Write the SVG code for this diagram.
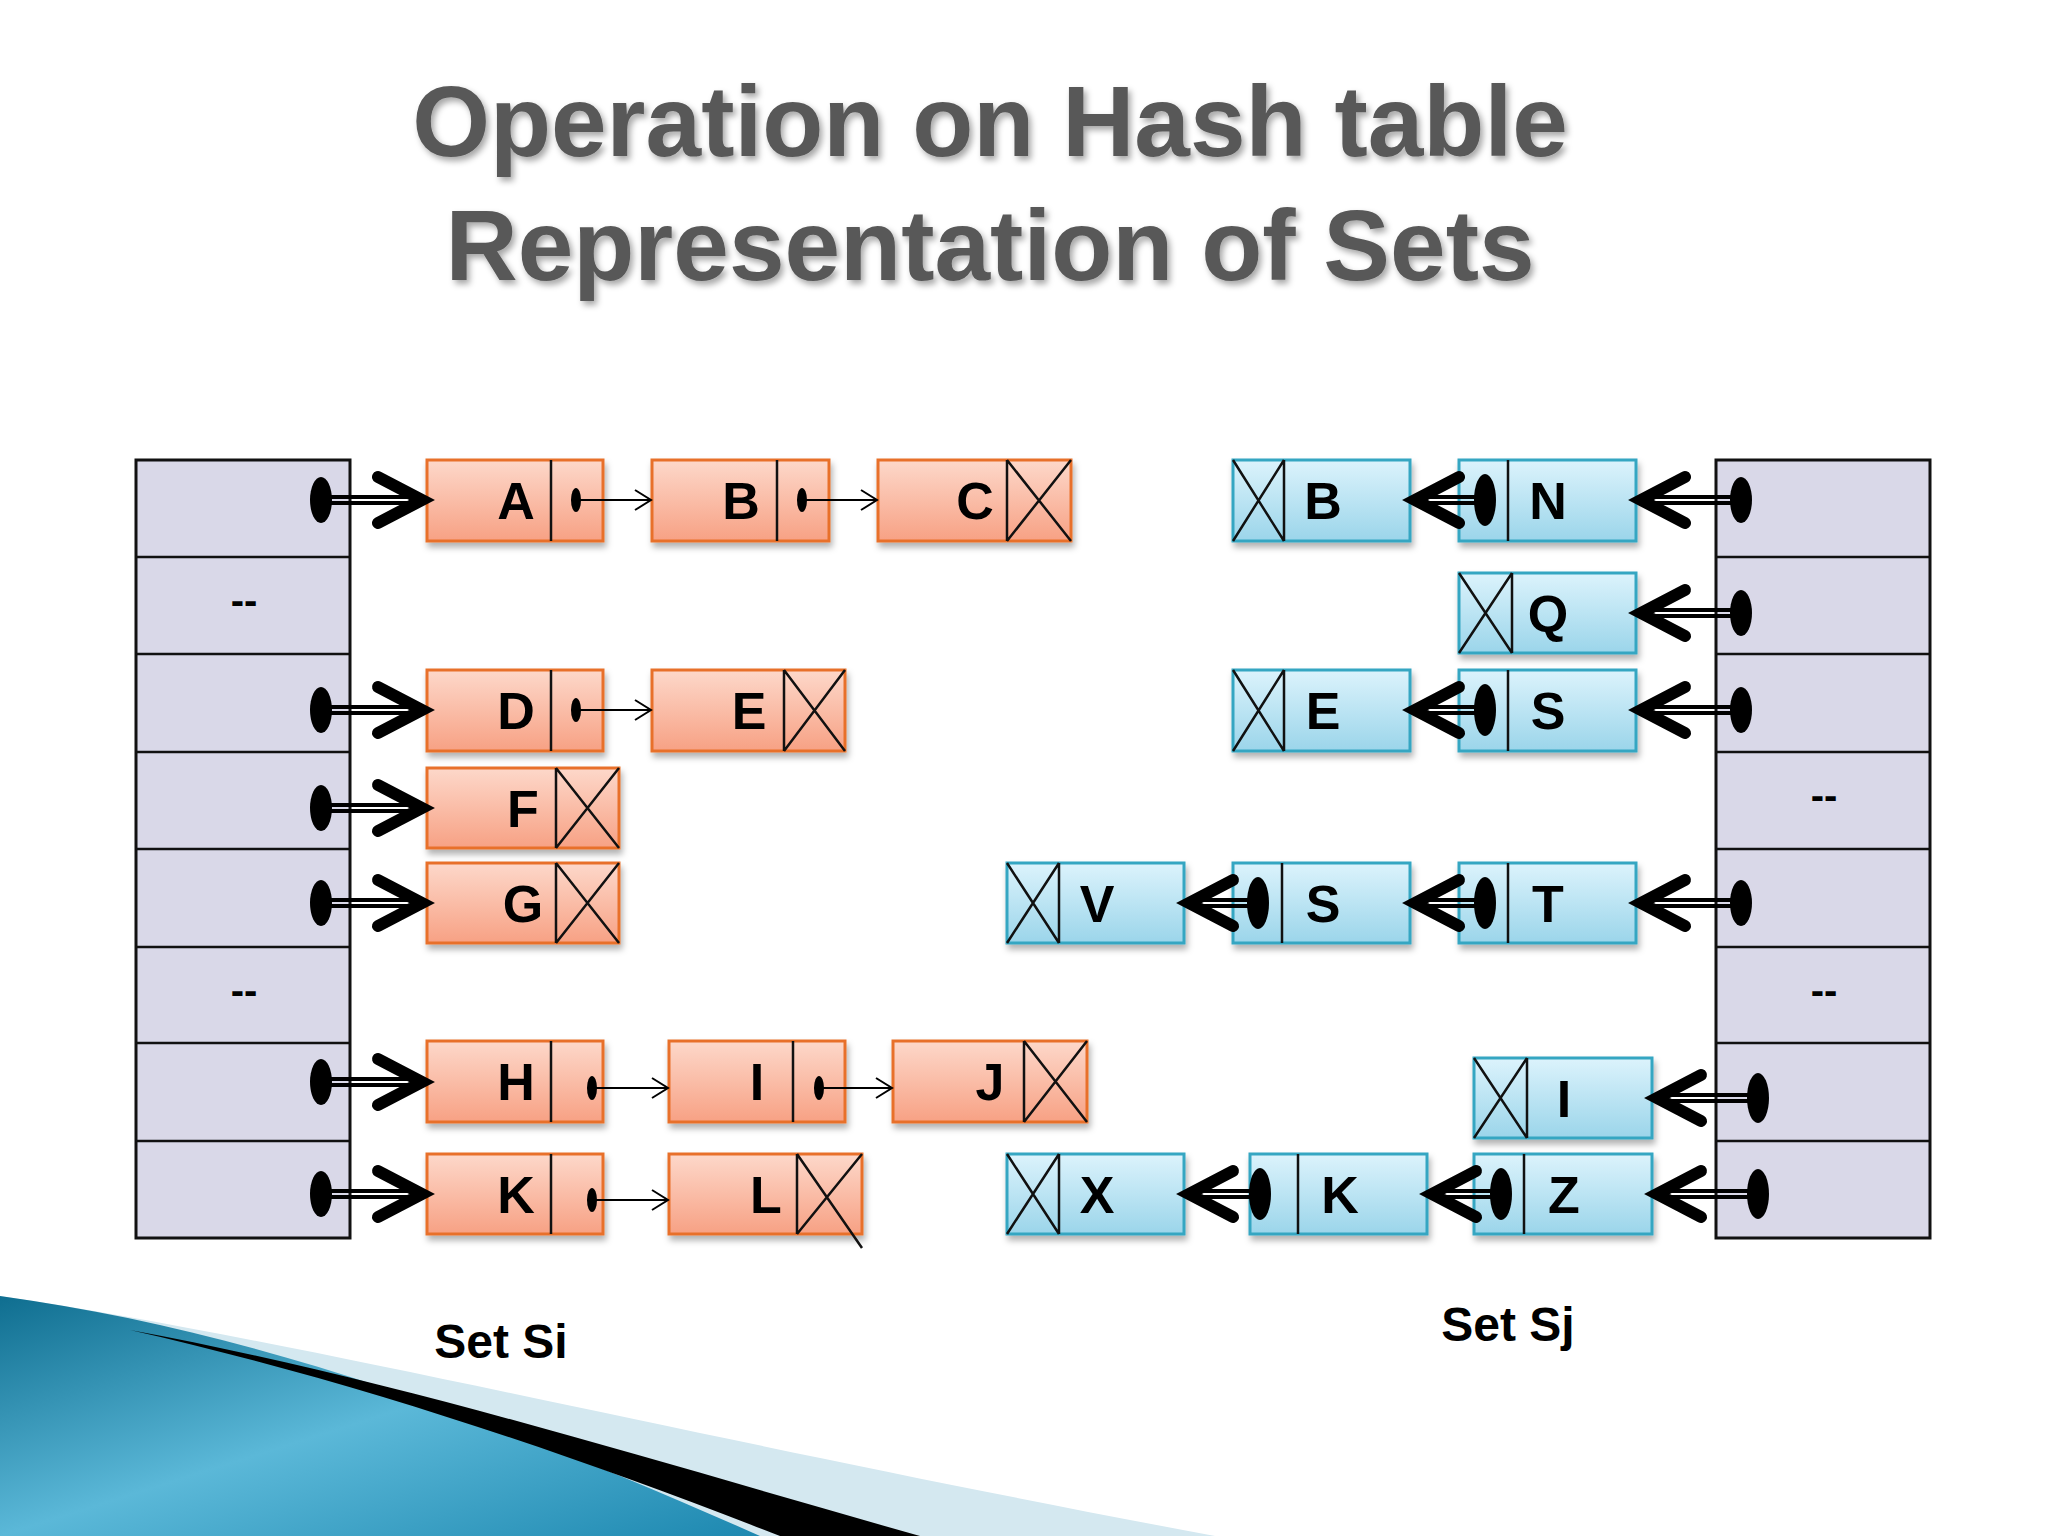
<svg xmlns="http://www.w3.org/2000/svg" width="2048" height="1536" viewBox="0 0 2048 1536">
<defs>
<linearGradient id="gr" x1="0" y1="0" x2="0" y2="1"><stop offset="0" stop-color="#fdd8ca"/><stop offset="1" stop-color="#f7a184"/></linearGradient>
<linearGradient id="gb" x1="0" y1="0" x2="0" y2="1"><stop offset="0" stop-color="#dcf3fc"/><stop offset="1" stop-color="#9bd5ea"/></linearGradient>
<linearGradient id="sw" x1="0" y1="0" x2="1" y2="1"><stop offset="0" stop-color="#0f6e90"/><stop offset="0.5" stop-color="#5bb8d8"/><stop offset="1" stop-color="#1d88b0"/></linearGradient>
<filter id="sh" x="-10%" y="-10%" width="130%" height="140%"><feDropShadow dx="2" dy="5" stdDeviation="3" flood-color="#000" flood-opacity="0.3"/></filter>
<filter id="tsh"><feDropShadow dx="3" dy="4" stdDeviation="3" flood-color="#000" flood-opacity="0.35"/></filter>
<style>
.tbl{fill:#d9d8e8;stroke:#111;stroke-width:3}
.rn{fill:url(#gr);stroke:#e8702a;stroke-width:3;filter:url(#sh)}
.bn{fill:url(#gb);stroke:#34a6c2;stroke-width:3;filter:url(#sh)}
.ln{stroke:#111;stroke-width:2.5;fill:none}
.lt{font-family:"Liberation Sans",Arial,sans-serif;font-weight:bold;font-size:52px;fill:#000;text-anchor:middle}
.dash{font-family:"Liberation Sans",Arial,sans-serif;font-weight:bold;font-size:40px;fill:#000;text-anchor:middle}
.ttl{font-family:"Liberation Sans",Arial,sans-serif;font-weight:bold;font-size:100px;fill:#595959;text-anchor:middle;filter:url(#tsh)}
.dot{fill:#000}
.bl{stroke:#000;stroke-width:4}
.chev{stroke:#000;stroke-width:12;fill:none;stroke-linecap:round;stroke-linejoin:miter}
.sl{stroke:#000;stroke-width:2;fill:none}
</style>
</defs>
<rect width="2048" height="1536" fill="#fff"/>
<g id="swoosh">
<path d="M0 1296 C300 1340 700 1440 1215 1536 L0 1536 Z" fill="#d4e8f0"/>
<path d="M0 1296 C250 1330 500 1420 760 1536 L0 1536 Z" fill="url(#sw)"/>
<path d="M130 1330 C400 1380 650 1460 920 1536 L780 1536 C560 1450 350 1380 130 1330 Z" fill="#000"/>
</g>
<g id="title">
<text class="ttl" x="990" y="156">Operation on Hash table</text>
<text class="ttl" x="990" y="280">Representation of Sets</text>
</g>
<g id="tableSi">
<rect class="tbl" x="136" y="460" width="214" height="778"/>
<path class="ln" d="M136 557H350M136 654H350M136 752H350M136 849H350M136 947H350M136 1043H350M136 1141H350"/>
<text class="dash" x="244" y="614">--</text>
<text class="dash" x="244" y="1004">--</text>
</g>
<g id="tableSj">
<rect class="tbl" x="1716" y="460" width="214" height="778"/>
<path class="ln" d="M1716 557H1930M1716 654H1930M1716 752H1930M1716 849H1930M1716 947H1930M1716 1043H1930M1716 1141H1930"/>
<text class="dash" x="1824" y="809">--</text>
<text class="dash" x="1824" y="1004">--</text>
</g>
<g id="nA"><rect class="rn" x="427" y="460" width="176" height="81"/><path class="ln" d="M551 460V541"/><text class="lt" x="516" y="519">A</text></g>
<g id="nB"><rect class="rn" x="652" y="460" width="177" height="81"/><path class="ln" d="M777 460V541"/><text class="lt" x="741" y="519">B</text></g>
<g id="nC"><rect class="rn" x="878" y="460" width="193" height="81"/><path class="ln" d="M1007 460V541M1007 460L1071 541M1071 460L1007 541"/><text class="lt" x="975" y="519">C</text></g>
<g id="nD"><rect class="rn" x="427" y="670" width="176" height="81"/><path class="ln" d="M551 670V751"/><text class="lt" x="516" y="729">D</text></g>
<g id="nE"><rect class="rn" x="652" y="670" width="193" height="81"/><path class="ln" d="M784 670V751M784 670L845 751M845 670L784 751"/><text class="lt" x="749" y="729">E</text></g>
<g id="nF"><rect class="rn" x="427" y="768" width="192" height="80"/><path class="ln" d="M556 768V848M556 768L619 848M619 768L556 848"/><text class="lt" x="523" y="827">F</text></g>
<g id="nG"><rect class="rn" x="427" y="863" width="192" height="80"/><path class="ln" d="M556 863V943M556 863L619 943M619 863L556 943"/><text class="lt" x="523" y="922">G</text></g>
<g id="nH"><rect class="rn" x="427" y="1041" width="176" height="81"/><path class="ln" d="M551 1041V1122"/><text class="lt" x="516" y="1100">H</text></g>
<g id="nI"><rect class="rn" x="669" y="1041" width="176" height="81"/><path class="ln" d="M793 1041V1122"/><text class="lt" x="757" y="1100">I</text></g>
<g id="nJ"><rect class="rn" x="893" y="1041" width="194" height="81"/><path class="ln" d="M1024 1041V1122M1024 1041L1087 1122M1087 1041L1024 1122"/><text class="lt" x="990" y="1100">J</text></g>
<g id="nK"><rect class="rn" x="427" y="1154" width="176" height="80"/><path class="ln" d="M551 1154V1234"/><text class="lt" x="516" y="1213">K</text></g>
<g id="nL"><rect class="rn" x="669" y="1154" width="193" height="80"/><path class="ln" d="M797 1154V1234M797 1154L862 1248M862 1154L797 1234"/><text class="lt" x="766" y="1213">L</text></g>
<g id="nB2"><rect class="bn" x="1233" y="460" width="177" height="81"/><path class="ln" d="M1284 460V541M1233 460L1284 541M1284 460L1233 541"/><text class="lt" x="1323" y="519">B</text></g>
<g id="nN"><rect class="bn" x="1459" y="460" width="177" height="81"/><path class="ln" d="M1508 460V541"/><text class="lt" x="1548" y="519">N</text></g>
<g id="nQ"><rect class="bn" x="1459" y="573" width="177" height="80"/><path class="ln" d="M1512 573V653M1459 573L1512 653M1512 573L1459 653"/><text class="lt" x="1548" y="632">Q</text></g>
<g id="nE2"><rect class="bn" x="1233" y="670" width="177" height="81"/><path class="ln" d="M1284 670V751M1233 670L1284 751M1284 670L1233 751"/><text class="lt" x="1323" y="729">E</text></g>
<g id="nS"><rect class="bn" x="1459" y="670" width="177" height="81"/><path class="ln" d="M1508 670V751"/><text class="lt" x="1548" y="729">S</text></g>
<g id="nV"><rect class="bn" x="1007" y="863" width="177" height="80"/><path class="ln" d="M1059 863V943M1007 863L1059 943M1059 863L1007 943"/><text class="lt" x="1097" y="922">V</text></g>
<g id="nS2"><rect class="bn" x="1233" y="863" width="177" height="80"/><path class="ln" d="M1282 863V943"/><text class="lt" x="1323" y="922">S</text></g>
<g id="nT"><rect class="bn" x="1459" y="863" width="177" height="80"/><path class="ln" d="M1508 863V943"/><text class="lt" x="1548" y="922">T</text></g>
<g id="nI2"><rect class="bn" x="1474" y="1058" width="178" height="80"/><path class="ln" d="M1527 1058V1138M1474 1058L1527 1138M1527 1058L1474 1138"/><text class="lt" x="1564" y="1117">I</text></g>
<g id="nX"><rect class="bn" x="1007" y="1154" width="177" height="80"/><path class="ln" d="M1059 1154V1234M1007 1154L1059 1234M1059 1154L1007 1234"/><text class="lt" x="1097" y="1213">X</text></g>
<g id="nK2"><rect class="bn" x="1250" y="1154" width="177" height="80"/><path class="ln" d="M1298 1154V1234"/><text class="lt" x="1340" y="1213">K</text></g>
<g id="nZ"><rect class="bn" x="1474" y="1154" width="178" height="80"/><path class="ln" d="M1524 1154V1234"/><text class="lt" x="1564" y="1213">Z</text></g>
<g id="connectors">
<!-- left table pointers -->
<g>
<path class="bl" d="M321 497H420M321 503H420"/><polyline class="chev" points="378,477 422,500 378,523"/><ellipse class="dot" cx="321" cy="500" rx="11" ry="23"/>
<path class="bl" d="M321 707H420M321 713H420"/><polyline class="chev" points="378,687 422,710 378,733"/><ellipse class="dot" cx="321" cy="710" rx="11" ry="23"/>
<path class="bl" d="M321 805H420M321 811H420"/><polyline class="chev" points="378,785 422,808 378,831"/><ellipse class="dot" cx="321" cy="808" rx="11" ry="23"/>
<path class="bl" d="M321 900H420M321 906H420"/><polyline class="chev" points="378,880 422,903 378,926"/><ellipse class="dot" cx="321" cy="903" rx="11" ry="23"/>
<path class="bl" d="M321 1079H420M321 1085H420"/><polyline class="chev" points="378,1059 422,1082 378,1105"/><ellipse class="dot" cx="321" cy="1082" rx="11" ry="23"/>
<path class="bl" d="M321 1191H420M321 1197H420"/><polyline class="chev" points="378,1171 422,1194 378,1217"/><ellipse class="dot" cx="321" cy="1194" rx="11" ry="23"/>
</g>
<!-- small pointers -->
<g>
<path class="sl" d="M576 500H651M635 490L651 500L635 510"/><ellipse class="dot" cx="576" cy="500" rx="5" ry="12"/>
<path class="sl" d="M802 500H877M861 490L877 500L861 510"/><ellipse class="dot" cx="802" cy="500" rx="5" ry="12"/>
<path class="sl" d="M576 710H651M635 700L651 710L635 720"/><ellipse class="dot" cx="576" cy="710" rx="5" ry="12"/>
<path class="sl" d="M592 1088H668M652 1078L668 1088L652 1098"/><ellipse class="dot" cx="592" cy="1088" rx="5" ry="12"/>
<path class="sl" d="M819 1088H892M876 1078L892 1088L876 1098"/><ellipse class="dot" cx="819" cy="1088" rx="5" ry="12"/>
<path class="sl" d="M592 1200H668M652 1190L668 1200L652 1210"/><ellipse class="dot" cx="592" cy="1200" rx="5" ry="12"/>
</g>
<!-- right table pointers -->
<g>
<path class="bl" d="M1741 497H1643M1741 503H1643"/><polyline class="chev" points="1685,477 1641,500 1685,523"/><ellipse class="dot" cx="1741" cy="500" rx="11" ry="23"/>
<path class="bl" d="M1741 610H1643M1741 616H1643"/><polyline class="chev" points="1685,590 1641,613 1685,636"/><ellipse class="dot" cx="1741" cy="613" rx="11" ry="23"/>
<path class="bl" d="M1741 707H1643M1741 713H1643"/><polyline class="chev" points="1685,687 1641,710 1685,733"/><ellipse class="dot" cx="1741" cy="710" rx="11" ry="23"/>
<path class="bl" d="M1741 900H1643M1741 906H1643"/><polyline class="chev" points="1685,880 1641,903 1685,926"/><ellipse class="dot" cx="1741" cy="903" rx="11" ry="23"/>
<path class="bl" d="M1758 1095H1659M1758 1101H1659"/><polyline class="chev" points="1701,1075 1657,1098 1701,1121"/><ellipse class="dot" cx="1758" cy="1098" rx="11" ry="25"/>
<path class="bl" d="M1758 1191H1659M1758 1197H1659"/><polyline class="chev" points="1701,1171 1657,1194 1701,1217"/><ellipse class="dot" cx="1758" cy="1194" rx="11" ry="25"/>
</g>
<!-- right in-node pointers -->
<g>
<path class="bl" d="M1485 497H1417M1485 503H1417"/><polyline class="chev" points="1459,477 1415,500 1459,523"/><ellipse class="dot" cx="1485" cy="500" rx="11" ry="26"/>
<path class="bl" d="M1485 707H1417M1485 713H1417"/><polyline class="chev" points="1459,687 1415,710 1459,733"/><ellipse class="dot" cx="1485" cy="710" rx="11" ry="26"/>
<path class="bl" d="M1485 900H1417M1485 906H1417"/><polyline class="chev" points="1459,880 1415,903 1459,926"/><ellipse class="dot" cx="1485" cy="903" rx="11" ry="26"/>
<path class="bl" d="M1258 900H1191M1258 906H1191"/><polyline class="chev" points="1233,880 1189,903 1233,926"/><ellipse class="dot" cx="1258" cy="903" rx="11" ry="26"/>
<path class="bl" d="M1501 1191H1434M1501 1197H1434"/><polyline class="chev" points="1476,1171 1432,1194 1476,1217"/><ellipse class="dot" cx="1501" cy="1194" rx="11" ry="26"/>
<path class="bl" d="M1260 1191H1191M1260 1197H1191"/><polyline class="chev" points="1233,1171 1189,1194 1233,1217"/><ellipse class="dot" cx="1260" cy="1194" rx="11" ry="26"/>
</g>
</g>
<g id="labels">
<text class="lt" x="501" y="1358" font-size="48" style="font-size:48px">Set Si</text>
<text class="lt" x="1508" y="1341" style="font-size:48px">Set Sj</text>
</g>
</svg>
